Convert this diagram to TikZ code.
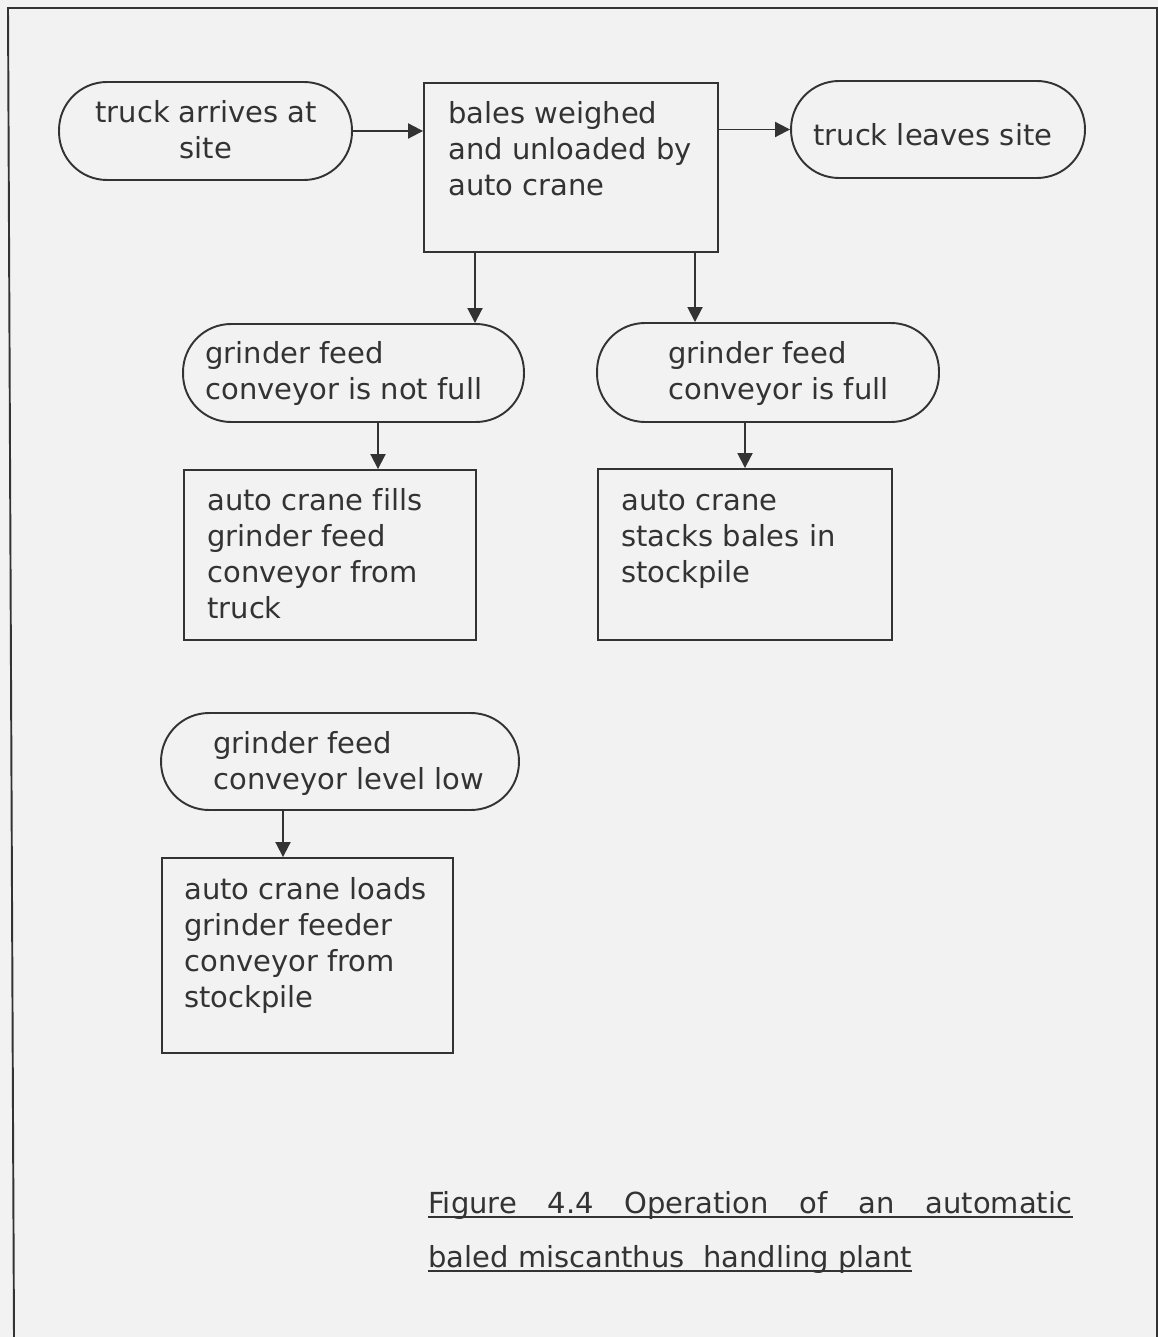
\documentclass[tikz,border=0pt]{standalone}
\usepackage{fontspec}
\setmainfont[Ligatures=NoCommon]{DejaVu Sans}
\usetikzlibrary{arrows.meta}
\definecolor{pagegray}{HTML}{F2F2F2}
\definecolor{inkgray}{HTML}{333333}
\tikzset{
  font={\fontsize{16.5pt}{20.5pt}\selectfont},
  stepbox/.style={draw=inkgray, line width=1.1pt, inner sep=0pt},
  roundbox/.style={stepbox, rounded corners=0.96cm},
  boxtext/.style={anchor=north west, align=left, inner sep=0pt, text=inkgray},
  flow/.style={draw=inkgray, line width=1.1pt, -{Triangle[length=0.3cm,width=0.3cm]}}}
\begin{document}
\begin{tikzpicture}[x=0.02cm, y=-0.02cm]
\fill [pagegray] (0,0) rectangle (1158,1337);
\useasboundingbox (0,0) rectangle (1158,1337);
\draw [inkgray, line width=1.1pt] (14,1337) -- (8,8) -- (1157,8) -- (1157,1337);
% top row
\node [roundbox, minimum width=5.86cm, minimum height=1.96cm] (arrive) at (205.5,131) {};
\node [boxtext, anchor=north, align=center] (arrive-t) at (206,100) {truck arrives at\\site};
\node [stepbox, minimum width=5.88cm, minimum height=3.38cm] (weigh) at (571,167.5) {};
\node [boxtext] (weigh-t) at (448,101) {bales weighed\\and unloaded by\\auto crane};
\node [roundbox, minimum width=5.88cm, minimum height=1.94cm] (leave) at (938,129.5) {};
\node [boxtext] (leave-t) at (813,123) {truck leaves site};
% conveyor state
\node [roundbox, minimum width=6.82cm, minimum height=1.96cm] (notfull) at (353.5,373) {};
\node [boxtext] (notfull-t) at (205,341) {grinder feed\\conveyor is not full};
\node [roundbox, minimum width=6.84cm, minimum height=1.98cm] (full) at (768,372.5) {};
\node [boxtext] (full-t) at (668,341) {grinder feed\\conveyor is full};
\node [stepbox, minimum width=5.84cm, minimum height=3.4cm] (fills) at (330,555) {};
\node [boxtext] (fills-t) at (207,488) {auto crane fills\\grinder feed\\conveyor from\\truck};
\node [stepbox, minimum width=5.88cm, minimum height=3.42cm] (stacks) at (745,554.5) {};
\node [boxtext] (stacks-t) at (621,490) {auto crane\\stacks bales in\\stockpile};
% level low
\node [roundbox, minimum width=7.16cm, minimum height=1.94cm] (low) at (340,761.5) {};
\node [boxtext] (low-t) at (213,731) {grinder feed\\conveyor level low};
\node [stepbox, minimum width=5.82cm, minimum height=3.9cm] (loads) at (307.5,955.5) {};
\node [boxtext] (loads-t) at (184,877) {auto crane loads\\grinder feeder\\conveyor from\\stockpile};
% caption
\node [anchor=base west, inner sep=0pt, text=inkgray] (cap-a) at (428,1213) {\makebox[12.88cm][s]{Figure 4.4 Operation of an automatic}};
\node [anchor=base west, inner sep=0pt, text=inkgray] (cap-b) at (428,1267) {baled miscanthus\ \ handling plant};
\draw [inkgray, line width=1.1pt] ([yshift=-2.5pt]cap-a.base west) -- ([yshift=-2.5pt]cap-a.base east);
\draw [inkgray, line width=1.1pt] ([yshift=-2.5pt]cap-b.base west) -- ([yshift=-2.5pt]cap-b.base east);
% connectors
\coordinate (drop-a) at (475,0);
\coordinate (drop-b) at (695,0);
\coordinate (drop-c) at (378,0);
\coordinate (drop-d) at (283,0);
\draw [flow] (arrive.east) -- (arrive.east -| weigh.west);
\draw [flow] (weigh.east |- leave.west) -- (leave.west);
\draw [flow] (weigh.south -| drop-a) -- (notfull.north -| drop-a);
\draw [flow] (weigh.south -| drop-b) -- (full.north -| drop-b);
\draw [flow] (notfull.south -| drop-c) -- (fills.north -| drop-c);
\draw [flow] (full.south -| stacks.north) -- (stacks.north);
\draw [flow] (low.south -| drop-d) -- (loads.north -| drop-d);
\end{tikzpicture}
\end{document}
